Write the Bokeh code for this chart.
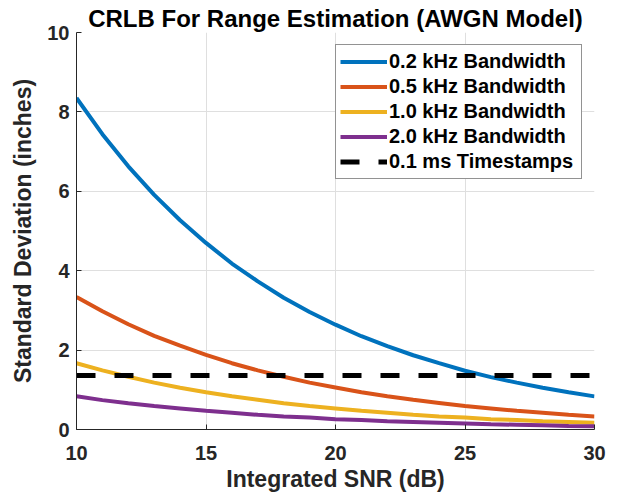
from bokeh.plotting import figure
from bokeh.models import Range1d, FixedTicker, Legend, LegendItem
from bokeh.embed import file_html
from bokeh.resources import INLINE

snr_db = [10, 11, 12, 13, 14, 15, 16, 17, 18, 19, 20, 21, 22, 23, 24, 25, 26, 27, 28, 29, 30]
bw_02 = [8.35, 7.44, 6.63, 5.91, 5.27, 4.70, 4.18, 3.73, 3.32, 2.96, 2.64, 2.35, 2.10, 1.87, 1.67, 1.48, 1.32, 1.18, 1.05, 0.94, 0.835]
bw_05 = [3.34, 2.98, 2.65, 2.36, 2.11, 1.88, 1.67, 1.49, 1.33, 1.18, 1.06, 0.94, 0.84, 0.75, 0.67, 0.59, 0.53, 0.47, 0.42, 0.37, 0.33]
bw_10 = [1.67, 1.49, 1.33, 1.18, 1.05, 0.94, 0.84, 0.75, 0.66, 0.59, 0.53, 0.47, 0.42, 0.37, 0.33, 0.30, 0.26, 0.24, 0.21, 0.19, 0.17]
bw_20 = [0.84, 0.74, 0.66, 0.59, 0.53, 0.47, 0.42, 0.37, 0.33, 0.30, 0.26, 0.24, 0.21, 0.19, 0.17, 0.15, 0.13, 0.12, 0.11, 0.09, 0.08]
timestamp_x = [10, 30]
timestamp_y = [1.36, 1.36]

labels = ["0.2 kHz Bandwidth", "0.5 kHz Bandwidth", "1.0 kHz Bandwidth", "2.0 kHz Bandwidth", "0.1 ms Timestamps"]
colors = ["#0072BD", "#D95319", "#EDB120", "#7E2F8E", "#000000"]
x_ticks = [10, 15, 20, 25, 30]
y_ticks = [0, 2, 4, 6, 8, 10]

FONT = "Liberation Sans"

p = figure(width=620, height=500, output_backend="svg", toolbar_location=None,
           x_range=Range1d(10, 30), y_range=Range1d(0, 10),
           min_border_left=76, min_border_right=26, min_border_top=32, min_border_bottom=71,
           title="CRLB For Range Estimation (AWGN Model)")
p.outline_line_color = None
p.background_fill_color = "white"
p.border_fill_color = "white"

p.title.text_font = FONT
p.title.text_font_style = "bold"
p.title.text_font_size = "24px"
p.title.align = "center"
p.title.text_color = "#000000"
p.title.offset = 0
p.title.standoff = 1

for ax, ticks in ((p.xaxis, x_ticks), (p.yaxis, y_ticks)):
    ax.ticker = FixedTicker(ticks=ticks)
    ax.major_label_text_font = FONT
    ax.major_label_text_font_style = "bold"
    ax.major_label_text_font_size = "20px"
    ax.major_label_text_color = "#262626"
    ax.axis_label_text_font = FONT
    ax.axis_label_text_font_style = "bold"
    ax.axis_label_text_font_size = "23px"
    ax.axis_label_text_color = "#262626"
    ax.axis_line_color = "#262626"
    ax.axis_line_width = 1
    ax.major_tick_line_color = "#262626"
    ax.major_tick_in = 5
    ax.major_tick_out = 0
    ax.minor_tick_line_color = None

p.xaxis.axis_label = "Integrated SNR (dB)"
p.yaxis.axis_label = "Standard Deviation (inches)"
p.xaxis.major_label_standoff = 16
p.yaxis.major_label_standoff = 7
p.xaxis.axis_label_standoff = 3
p.yaxis.axis_label_standoff = 8

p.xgrid.ticker = FixedTicker(ticks=x_ticks)
p.ygrid.ticker = FixedTicker(ticks=y_ticks)
for g in (p.xgrid, p.ygrid):
    g.grid_line_color = "#dfdfdf"
    g.grid_line_width = 1

renderers = []
for ys, c in zip([bw_02, bw_05, bw_10, bw_20], colors[:4]):
    r = p.line(snr_db, ys, line_color=c, line_width=4)
    renderers.append(r)
r = p.line(timestamp_x, timestamp_y, line_color="black", line_width=5, line_dash="19 19")
renderers.append(r)

legend = Legend(items=[LegendItem(label=l, renderers=[rr]) for l, rr in zip(labels, renderers)],
                location="top_right")
legend.label_text_font = FONT
legend.label_text_font_style = "bold"
legend.label_text_font_size = "20px"
legend.label_text_color = "#000000"
legend.glyph_width = 47
legend.glyph_height = 25
legend.label_standoff = 2
legend.label_height = 25
legend.label_width = 188
legend.spacing = 0
legend.padding = 4
legend.margin = 12
legend.border_line_color = "#262626"
legend.border_line_width = 1
legend.background_fill_color = "white"
legend.background_fill_alpha = 1
p.add_layout(legend, "center")

open("out.html", "w").write(file_html(p, INLINE))
